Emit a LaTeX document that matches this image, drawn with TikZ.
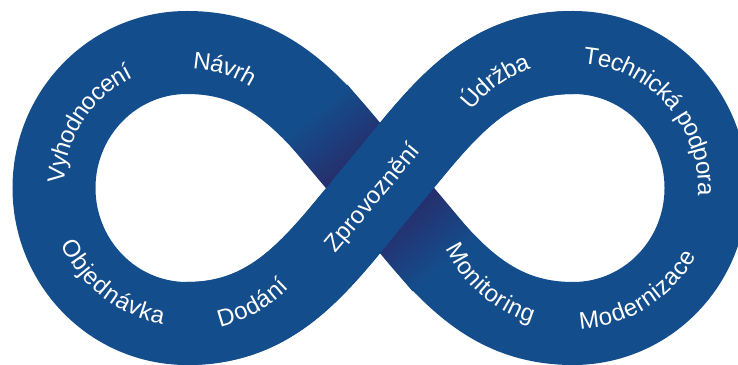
\documentclass[tikz,border=0pt]{standalone}
\usepackage{fontspec}
\setmainfont{Liberation Sans}
\usetikzlibrary{decorations.text}
\definecolor{bandblue}{RGB}{20,77,140}
\definecolor{bandshade}{RGB}{40,44,106}
\newcommand{\lblfont}{\fontsize{24}{28}\selectfont}
\begin{document}
\begin{tikzpicture}[x=1pt,y=1pt,
  band/.style={draw=bandblue,line width=83pt},
  lbl/.style={decorate,decoration={text along path,text={|\lblfont|#1},text color=white,text align=center,raise=-7pt}}]
\useasboundingbox (0,0) rectangle (738,364);
\clip (0,0) rectangle (738,364);
\coordinate (x) at (380,176);
\coordinate (lc) at (187,176);
\coordinate (rc) at (573,176);
\coordinate (lt) at (187,311.5);
\coordinate (ll) at (54,176);
\coordinate (lb) at (187,40.5);
\coordinate (rt) at (573,311.5);
\coordinate (rr) at (706,176);
\coordinate (rb) at (573,40.5);
\draw[band] (x) to[out=50,in=180] (rt) to[out=0,in=90] (rr) to[out=-90,in=0] (rb) to[out=180,in=-50] (x)
  to[out=130,in=0] (lt) to[out=180,in=90] (ll) to[out=-90,in=180] (lb) to[out=0,in=-130] (x);
\begin{scope}[transform canvas={shift={(380,176)},rotate=-50}]
  \shade[left color=bandshade,right color=bandblue] (30,-41.5) rectangle (100,41.5);
  \shade[left color=bandblue,right color=bandshade] (-100,-41.5) rectangle (-30,41.5);
\end{scope}
\draw[band] (lb) to[out=0,in=-130] (x) to[out=50,in=180] (rt);
\foreach \c/\r/\s/\e/\t in {lc/130/205/89/Vyhodnocení, lc/126/107/38/Návrh, lc/131/177/287/Objednávka,
  lc/136/249/350/Dodání, rc/134/181/71/Údržba, rc/132/121/-39/Technická podpora,
  rc/134/174/284/Monitoring, rc/134/247/357/Modernizace}
  \path[lbl/.expanded=\t,shift={(\c)}] (\s:\r) arc[start angle=\s,end angle=\e,radius=\r];
\path[lbl=Zprovoznění,shift={(x)}] (-84,-102) -- (70,82);
\end{tikzpicture}
\end{document}
